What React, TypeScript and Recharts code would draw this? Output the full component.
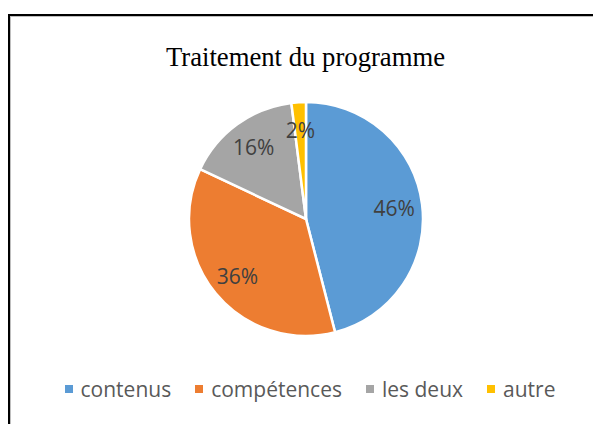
// @ts-nocheck
import React from 'react';
import { PieChart, Pie, Cell, Legend } from 'recharts';

const categories = ['contenus', 'compétences', 'les deux', 'autre'];
const shares = [46, 36, 16, 2];
const colors = ['#5B9BD5', '#ED7D31', '#A5A5A5', '#FFC000'];

const data = categories.map((name, i) => ({ name, value: shares[i] }));

const RAD = Math.PI / 180;

const renderLabel = ({ cx, cy, midAngle, outerRadius, value }) => {
    const r = outerRadius * 0.76;
    const x = cx + r * Math.cos(-midAngle * RAD);
    const y = cy + r * Math.sin(-midAngle * RAD);
    return (
        <text x={x} y={y} fill="#404040" fontSize={21} fontFamily="'Open Sans', sans-serif" textAnchor="middle" dominantBaseline="central">
            {`${value}%`}
        </text>
    );
};

// legend keeps the series order (recharts would sort it otherwise)
const renderLegend = () => (
    <div style={{ display: 'flex', justifyContent: 'center', alignItems: 'center', fontFamily: "'Open Sans', sans-serif", fontSize: 21, color: '#595959' }}>
        {categories.map((name, i) => (
            <div key={name} style={{ display: 'flex', alignItems: 'center', marginRight: i < categories.length - 1 ? 24 : 0 }}>
                <span style={{ width: 8, height: 8, background: colors[i], marginRight: 8, display: 'inline-block' }} />
                <span>{name}</span>
            </div>
        ))}
    </div>
);

export default function App() {
    return (
        <div style={{ position: 'absolute', left: 0, top: 0, width: 593, height: 424, overflow: 'hidden', background: '#fff' }}>
            {/* frame: only the left and top edges show in the picture */}
            <div style={{ position: 'absolute', left: 8, top: 14, width: 800, height: 600, borderLeft: '2px solid #000', borderTop: '2px solid #000' }} />
            <div style={{ position: 'absolute', left: 10, top: 16, width: 800, height: 600, borderLeft: '1px solid #bfbfbf', borderTop: '1px solid #bfbfbf' }} />
            <div style={{ position: 'absolute', left: 0, top: 44, width: 611, textAlign: 'center', fontFamily: "'Liberation Serif', 'Times New Roman', serif", fontSize: 26.7, lineHeight: '26px', color: '#000' }}>
                Traitement du programme
            </div>
            <div style={{ position: 'absolute', left: 0, top: 0 }}>
                <PieChart width={593} height={424} margin={{ top: 0, right: 0, bottom: 0, left: 0 }}>
                    <Pie
                        data={data}
                        dataKey="value"
                        nameKey="name"
                        cx={306}
                        cy={219}
                        outerRadius={117}
                        startAngle={90}
                        endAngle={-270}
                        stroke="#fff"
                        strokeWidth={2.5}
                        label={renderLabel}
                        labelLine={false}
                        isAnimationActive={false}
                    >
                        {data.map((d, i) => (
                            <Cell key={d.name} fill={colors[i]} />
                        ))}
                    </Pie>
                    <Legend content={renderLegend} wrapperStyle={{ position: 'absolute', left: 0, top: 375, width: 620 }} />
                </PieChart>
            </div>
        </div>
    );
}
